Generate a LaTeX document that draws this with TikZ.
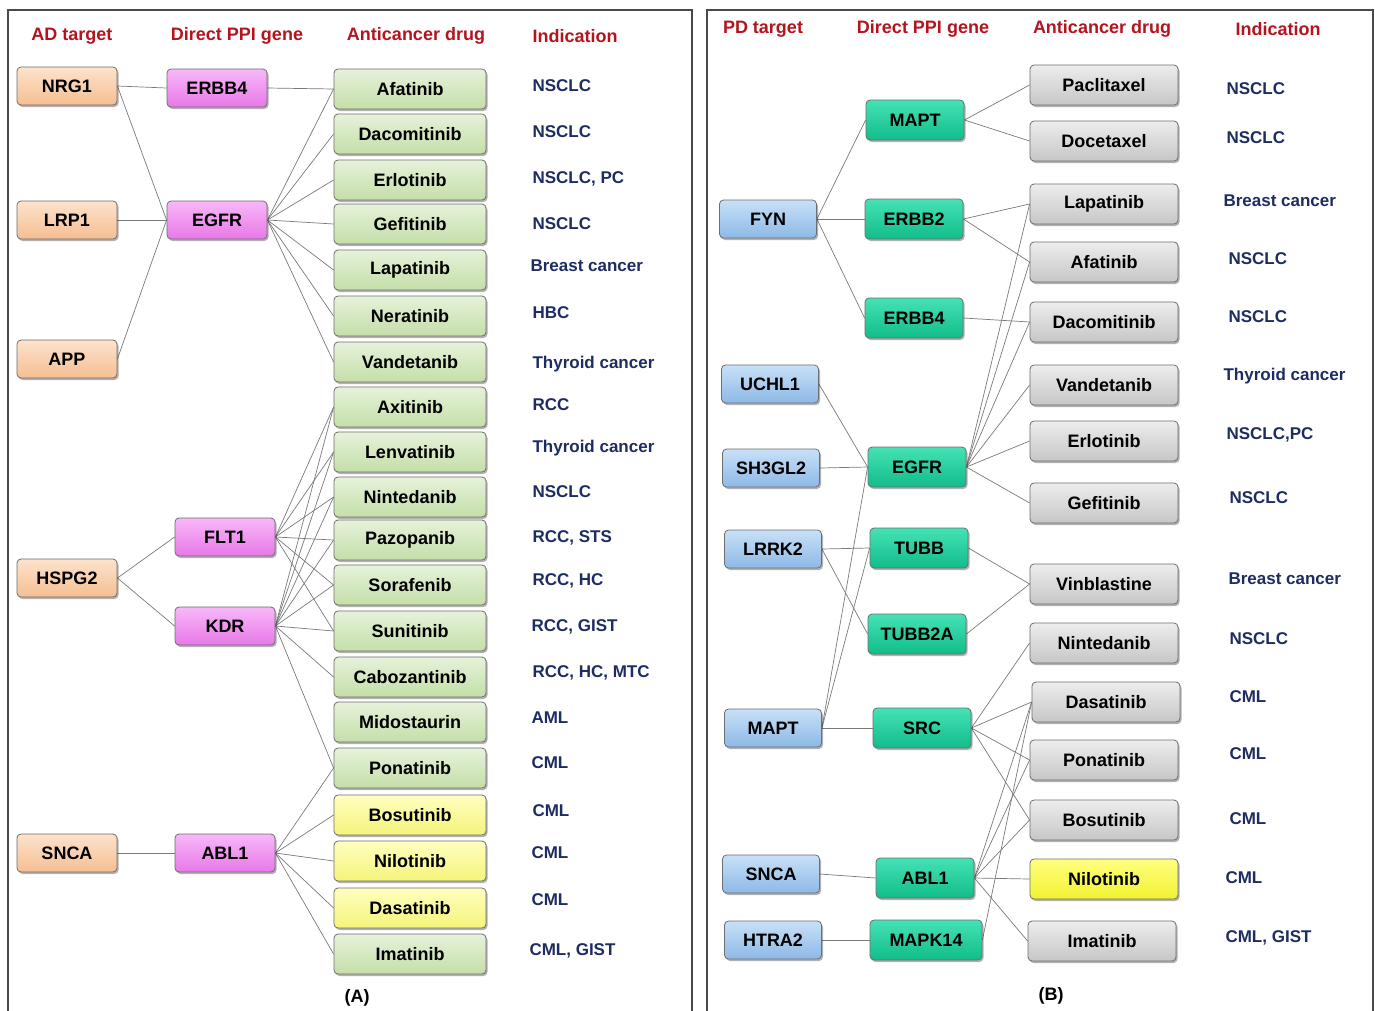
\documentclass[tikz,border=0pt]{standalone}
\usepackage{fontspec}
\newfontfamily\lbl{Liberation Sans Bold}
\usetikzlibrary{shadows,backgrounds}

\definecolor{peachT}{HTML}{FDE3CC}
\definecolor{peachB}{HTML}{F5BE92}
\definecolor{magT}{HTML}{F8B8F8}
\definecolor{magB}{HTML}{E878E8}
\definecolor{grnT}{HTML}{E6F2DA}
\definecolor{grnB}{HTML}{C4DEA8}
\definecolor{yelT}{HTML}{FFFFC0}
\definecolor{yelB}{HTML}{F4F47A}
\definecolor{yelbT}{HTML}{FFFF80}
\definecolor{yelbB}{HTML}{F2F230}
\definecolor{bluT}{HTML}{C8E0F7}
\definecolor{bluB}{HTML}{8DB9E6}
\definecolor{tealT}{HTML}{45E2B5}
\definecolor{tealB}{HTML}{12BC8A}
\definecolor{gryT}{HTML}{EDEDED}
\definecolor{gryB}{HTML}{C6C6C6}
\definecolor{boxline}{HTML}{6E6E6E}
\definecolor{linkgray}{HTML}{7A7A7A}
\definecolor{hdrred}{HTML}{B4141E}
\definecolor{indnavy}{HTML}{1E2C62}
\definecolor{framegray}{HTML}{4A4A4A}

\tikzset{
  box/.style={rectangle, rounded corners=4pt, minimum height=38pt, inner sep=0pt,
    font=\lbl\fontsize{18}{20}\selectfont, text=black,
    draw=boxline, line width=0.8pt,
    drop shadow={shadow xshift=1.5pt, shadow yshift=-2pt, fill=black, opacity=0.3}},
  adt/.style={box, minimum width=100pt, top color=peachT, bottom color=peachB},
  agene/.style={box, minimum width=100pt, top color=magT, bottom color=magB},
  adrug/.style={box, minimum width=152pt, minimum height=40pt, top color=grnT, bottom color=grnB},
  ydrug/.style={box, minimum width=152pt, minimum height=40pt, top color=yelT, bottom color=yelB},
  pdt/.style={box, minimum width=97pt, top color=bluT, bottom color=bluB},
  bgene/.style={box, minimum width=98pt, minimum height=40pt, top color=tealT, bottom color=tealB},
  bdrug/.style={box, minimum width=148pt, minimum height=40pt, top color=gryT, bottom color=gryB},
  bydrug/.style={box, minimum width=148pt, minimum height=40pt, top color=yelbT, bottom color=yelbB},
  hdr/.style={font=\lbl\fontsize{18}{20}\selectfont, text=hdrred},
  ind/.style={anchor=west, font=\lbl\fontsize{17}{19}\selectfont, text=indnavy},
  plabel/.style={font=\lbl\fontsize{18}{20}\selectfont, text=black},
  link/.style={draw=linkgray, line width=0.7pt},
  frame/.style={draw=framegray, line width=1.2pt}
}

\begin{document}
\begin{tikzpicture}[x=1pt,y=-1pt]
\useasboundingbox (0,0) rectangle (1375,1010);

% panel frames
\draw[frame] (8,1012) -- (8,10) -- (692,10) -- (692,1012);
\draw[frame] (707,1012) -- (707,10) -- (1373,10) -- (1373,1012);

% ---------------- panel A ----------------
\node[hdr] (ha1) at (72,36) {AD target};
\node[hdr] (ha2) at (237,36) {Direct PPI gene};
\node[hdr] (ha3) at (416,36) {Anticancer drug};
\node[hdr] (ha4) at (575,36) {Indication};

\node[adt] (nrg1) at (67,86) {NRG1};
\node[adt] (lrp1) at (67,220) {LRP1};
\node[adt] (app) at (67,359) {APP};
\node[adt] (hspg2) at (67,578) {HSPG2};
\node[adt] (sncaa) at (67,853) {SNCA};

\node[agene] (erbb4a) at (217,88) {ERBB4};
\node[agene] (egfra) at (217,220) {EGFR};
\node[agene] (flt1) at (225,537) {FLT1};
\node[agene] (kdr) at (225,626) {KDR};
\node[agene] (abl1a) at (225,853) {ABL1};

\node[adrug] (afata) at (410,89) {Afatinib};
\node[adrug] (dacoa) at (410,134) {Dacomitinib};
\node[adrug] (erloa) at (410,180) {Erlotinib};
\node[adrug] (gefia) at (410,224) {Gefitinib};
\node[adrug] (lapaa) at (410,270) {Lapatinib};
\node[adrug] (neraa) at (410,316) {Neratinib};
\node[adrug] (vanda) at (410,362) {Vandetanib};
\node[adrug] (axita) at (410,407) {Axitinib};
\node[adrug] (lenva) at (410,452) {Lenvatinib};
\node[adrug] (ninta) at (410,497) {Nintedanib};
\node[adrug] (pazoa) at (410,540) {Pazopanib};
\node[adrug] (sora) at (410,585) {Sorafenib};
\node[adrug] (sunia) at (410,631) {Sunitinib};
\node[adrug] (caboa) at (410,677) {Cabozantinib};
\node[adrug] (mido) at (410,722) {Midostaurin};
\node[adrug] (ponaa) at (410,768) {Ponatinib};
\node[ydrug] (bosua) at (410,815) {Bosutinib};
\node[ydrug] (niloa) at (410,861) {Nilotinib};
\node[ydrug] (dasaa) at (410,908) {Dasatinib};
\node[adrug] (imata) at (410,954) {Imatinib};

\node[ind] (ia1) at (529,86) {NSCLC};
\node[ind] (ia2) at (529,132) {NSCLC};
\node[ind] (ia3) at (529,179) {NSCLC, PC};
\node[ind] (ia4) at (529,224) {NSCLC};
\node[ind] (ia5) at (527,266) {Breast cancer};
\node[ind] (ia6) at (529,313) {HBC};
\node[ind] (ia7) at (529,364) {Thyroid cancer};
\node[ind] (ia8) at (529,405) {RCC};
\node[ind] (ia9) at (529,448) {Thyroid cancer};
\node[ind] (ia10) at (529,492) {NSCLC};
\node[ind] (ia11) at (529,538) {RCC, STS};
\node[ind] (ia12) at (529,581) {RCC, HC};
\node[ind] (ia13) at (528,627) {RCC, GIST};
\node[ind] (ia14) at (529,673) {RCC, HC, MTC};
\node[ind] (ia15) at (528,718) {AML};
\node[ind] (ia16) at (528,763) {CML};
\node[ind] (ia17) at (529,811) {CML};
\node[ind] (ia18) at (528,853) {CML};
\node[ind] (ia19) at (528,900) {CML};
\node[ind] (ia20) at (526,951) {CML, GIST};

\node[plabel] (pa) at (357,998) {(A)};

% ---------------- panel B ----------------
\node[hdr] (hb1) at (763,29) {PD target};
\node[hdr] (hb2) at (923,29) {Direct PPI gene};
\node[hdr] (hb3) at (1102,29) {Anticancer drug};
\node[hdr] (hb4) at (1278,29) {Indication};

\node[pdt] (fyn) at (768,219) {FYN};
\node[pdt] (uchl1) at (770,384) {UCHL1};
\node[pdt] (sh3gl2) at (771,468) {SH3GL2};
\node[pdt] (lrrk2) at (773,549) {LRRK2};
\node[pdt] (maptpd) at (773,728) {MAPT};
\node[pdt] (sncab) at (771,874) {SNCA};
\node[pdt] (htra2) at (773,940) {HTRA2};

\node[bgene] (maptb) at (915,120) {MAPT};
\node[bgene] (erbb2) at (914,219) {ERBB2};
\node[bgene] (erbb4b) at (914,318) {ERBB4};
\node[bgene] (egfrb) at (917,467) {EGFR};
\node[bgene] (tubb) at (919,548) {TUBB};
\node[bgene] (tubb2a) at (917,634) {TUBB2A};
\node[bgene] (src) at (922,728) {SRC};
\node[bgene] (abl1b) at (925,878) {ABL1};
\node[bgene, minimum width=112pt] (mapk14) at (926,940) {MAPK14};

\node[bdrug] (pacl) at (1104,85) {Paclitaxel};
\node[bdrug] (doce) at (1104,141) {Docetaxel};
\node[bdrug] (lapab) at (1104,204) {Lapatinib};
\node[bdrug] (afatb) at (1104,262) {Afatinib};
\node[bdrug] (dacob) at (1104,322) {Dacomitinib};
\node[bdrug] (vandb) at (1104,385) {Vandetanib};
\node[bdrug] (erlob) at (1104,441) {Erlotinib};
\node[bdrug] (gefib) at (1104,503) {Gefitinib};
\node[bdrug] (vinb) at (1104,584) {Vinblastine};
\node[bdrug] (nintb) at (1104,643) {Nintedanib};
\node[bdrug] (dasab) at (1106,702) {Dasatinib};
\node[bdrug] (ponab) at (1104,760) {Ponatinib};
\node[bdrug] (bosub) at (1104,820) {Bosutinib};
\node[bydrug] (nilob) at (1104,879) {Nilotinib};
\node[bdrug] (imatb) at (1102,941) {Imatinib};

\node[ind] (ib1) at (1223,89) {NSCLC};
\node[ind] (ib2) at (1223,138) {NSCLC};
\node[ind] (ib3) at (1220,201) {Breast cancer};
\node[ind] (ib4) at (1225,259) {NSCLC};
\node[ind] (ib5) at (1225,317) {NSCLC};
\node[ind] (ib6) at (1220,376) {Thyroid cancer};
\node[ind] (ib7) at (1223,435) {NSCLC,PC};
\node[ind] (ib8) at (1226,498) {NSCLC};
\node[ind] (ib9) at (1225,579) {Breast cancer};
\node[ind] (ib10) at (1226,639) {NSCLC};
\node[ind] (ib11) at (1226,697) {CML};
\node[ind] (ib12) at (1226,754) {CML};
\node[ind] (ib13) at (1226,819) {CML};
\node[ind] (ib14) at (1222,878) {CML};
\node[ind] (ib15) at (1222,938) {CML, GIST};

\node[plabel] (pb) at (1051,996) {(B)};

% ---------------- connectors, kept behind the boxes ----------------
\begin{pgfonlayer}{background}
\fill[white] (0,0) rectangle (1375,1010);
\foreach \s/\t in {nrg1/erbb4a, nrg1/egfra, lrp1/egfra, app/egfra,
  hspg2/flt1, hspg2/kdr, sncaa/abl1a,
  erbb4a/afata,
  egfra/afata, egfra/dacoa, egfra/erloa, egfra/gefia, egfra/lapaa, egfra/neraa, egfra/vanda,
  flt1/axita, flt1/lenva, flt1/ninta, flt1/pazoa, flt1/sora, flt1/sunia,
  kdr/axita, kdr/lenva, kdr/ninta, kdr/pazoa, kdr/sora, kdr/sunia, kdr/caboa, kdr/ponaa,
  abl1a/ponaa, abl1a/bosua, abl1a/niloa, abl1a/dasaa, abl1a/imata}
  \draw[link] (\s.east) -- (\t.west);

\foreach \s/\t in {fyn/maptb, fyn/erbb2, fyn/erbb4b, uchl1/egfrb, sh3gl2/egfrb,
  lrrk2/tubb, lrrk2/tubb2a, maptpd/src, maptpd/egfrb, maptpd/tubb,
  sncab/abl1b, htra2/mapk14,
  maptb/pacl, maptb/doce, erbb2/lapab, erbb2/afatb, erbb4b/dacob,
  egfrb/lapab, egfrb/afatb, egfrb/dacob, egfrb/vandb, egfrb/erlob, egfrb/gefib,
  tubb/vinb, tubb2a/vinb,
  src/nintb, src/dasab, src/ponab, src/bosub,
  abl1b/dasab, abl1b/ponab, abl1b/bosub, abl1b/nilob, abl1b/imatb,
  mapk14/dasab}
  \draw[link] (\s.east) -- (\t.west);
\end{pgfonlayer}
\end{tikzpicture}
\end{document}
